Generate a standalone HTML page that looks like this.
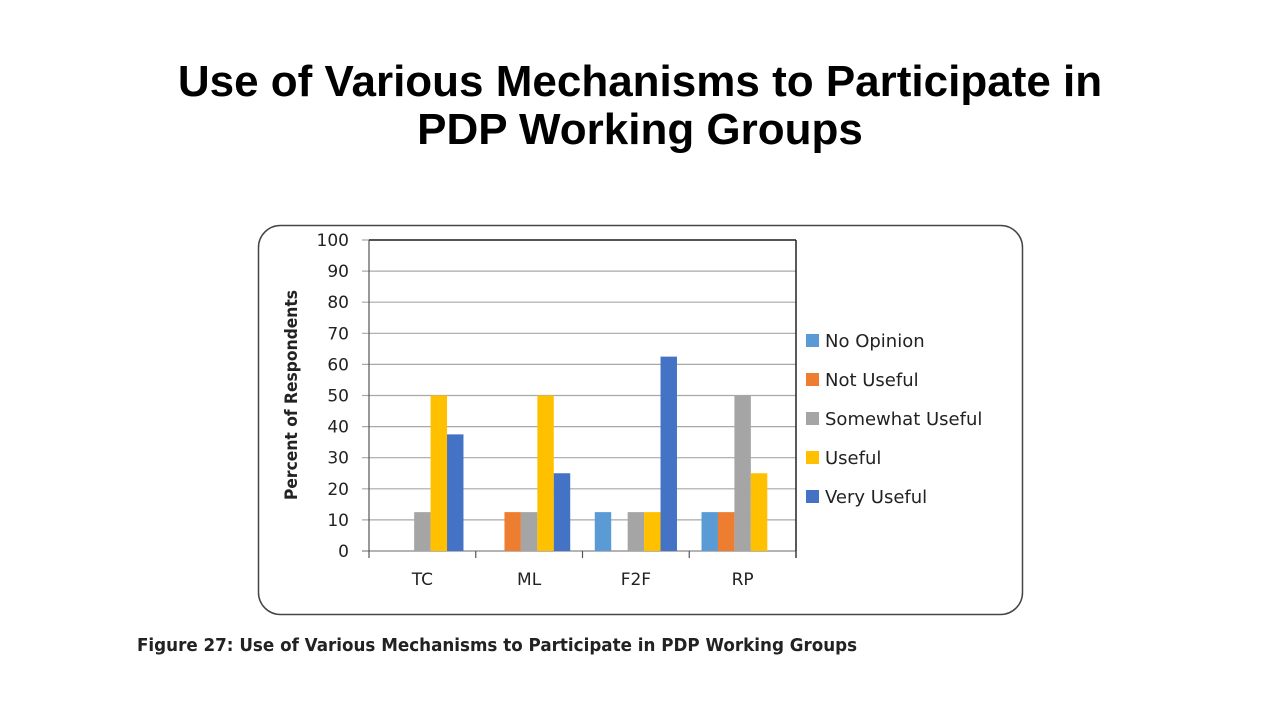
<!DOCTYPE html>
<html><head><meta charset="utf-8">
<style>
body{margin:0;background:#fff;width:1280px;height:720px;overflow:hidden;font-family:"Liberation Sans",sans-serif;}
h1{position:absolute;top:58px;left:0;width:1280px;margin:0;text-align:center;font-size:44px;font-weight:bold;line-height:48px;color:#000;}
#caption{position:absolute;left:137px;top:635px;font-size:18px;font-weight:bold;color:#222;font-family:"DejaVu Sans","Liberation Sans",sans-serif;transform:scaleX(0.93);transform-origin:left;}
</style></head><body>
<h1>Use of Various Mechanisms to Participate in<br>PDP Working Groups</h1>
<svg id="chart" width="1280" height="720" style="position:absolute;left:0;top:0">
<rect x="258.5" y="225.5" width="764" height="389" rx="22" fill="none" stroke="#444" stroke-width="1.5"/>
</svg>
<div id="caption">Figure 27: Use of Various Mechanisms to Participate in PDP Working Groups</div>
<script>
const categories=["TC","ML","F2F","RP"];
const seriesNames=["No Opinion","Not Useful","Somewhat Useful","Useful","Very Useful"];
const noOpinion=[0,0,12.5,12.5];
const notUseful=[0,12.5,0,12.5];
const somewhatUseful=[12.5,12.5,12.5,50];
const useful=[50,50,12.5,25];
const veryUseful=[37.5,25,62.5,0];
const yTicks=[0,10,20,30,40,50,60,70,80,90,100];
const series=[noOpinion,notUseful,somewhatUseful,useful,veryUseful];
const colors=["#5B9BD5","#ED7D31","#A5A5A5","#FFC000","#4472C4"];
const svg=document.getElementById('chart');const NS="http://www.w3.org/2000/svg";
const L=369,R=796,T=240,B=551;
const y=v=>B-(v/100)*(B-T);
const gw=(R-L)/categories.length;
const x=i=>L+i*gw;
function mk(tag,a,txt){const e=document.createElementNS(NS,tag);for(const k in a)e.setAttribute(k,a[k]);if(txt!==undefined)e.textContent=txt;svg.appendChild(e);return e;}
yTicks.forEach(t=>{
 const g=mk('line',{x1:L-7,x2:R,y1:y(t),y2:y(t),stroke:t==0?'#888':'#a8a8a8','stroke-width':1.2});
 
 
 const l=mk('text',{x:L-20,y:y(t)+6,'text-anchor':'end','font-size':17,fill:'#222','font-family':'DejaVu Sans, Liberation Sans, sans-serif'},t);
 
 
});
const b1=mk('line',{x1:L,x2:R,y1:T,y2:T,stroke:'#222','stroke-width':1.5});


const b2=mk('line',{x1:R,x2:R,y1:T,y2:B+7,stroke:'#222','stroke-width':1.5});


const b3=mk('line',{x1:L,x2:L,y1:T,y2:B+7,stroke:'#555','stroke-width':1.2});


const bw=gw*0.154,pad=(gw-bw*5)/2;
categories.forEach((c,i)=>{
 const tk=mk('line',{x1:x(i+1),x2:x(i+1),y1:B,y2:B+7,stroke:'#555','stroke-width':1.2});
 
 
 const lb=mk('text',{x:x(i)+gw/2,y:B+34,'text-anchor':'middle','font-size':17,fill:'#222','font-family':'DejaVu Sans, Liberation Sans, sans-serif'},c);
 
 
 series.forEach((s,j)=>{
  if(!s[i])return;
  const r=mk('rect',{x:x(i)+pad+j*bw,y:y(s[i]),width:bw,height:B-y(s[i]),fill:colors[j]});
  
  
 });
});
const yt=mk('text',{transform:'translate(297,395) rotate(-90)','text-anchor':'middle','font-size':17,'font-weight':'bold',fill:'#222','font-family':'DejaVu Sans, Liberation Sans, sans-serif',textLength:210,lengthAdjust:'spacingAndGlyphs'},'Percent of Respondents');


seriesNames.forEach((n,j)=>{
 const yy=341+j*39;
 const sq=mk('rect',{x:806,y:yy-7,width:13,height:13,fill:colors[j]});
 
 
 const t=mk('text',{x:825,y:yy+6,'font-size':18,fill:'#222','font-family':'DejaVu Sans, Liberation Sans, sans-serif'},n);
 
 
});
</script>
</body></html>
